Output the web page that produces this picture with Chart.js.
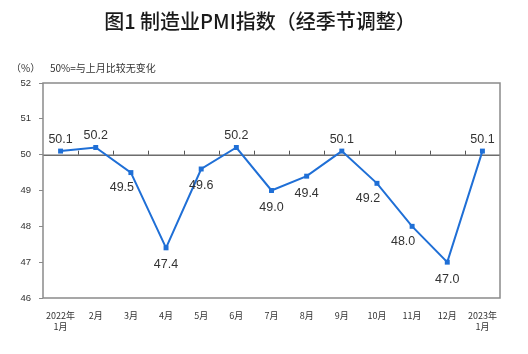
<!DOCTYPE html>
<html>
<head>
<meta charset="utf-8">
<script src="https://cdn.jsdelivr.net/npm/chart.js@4"></script>
<style>
  html, body { margin: 0; padding: 0; background: #fff; }
  #wrap { width: 528px; height: 354px; position: relative; }
</style>
</head>
<body>
<div id="wrap"><canvas id="myChart" width="528" height="354"></canvas></div>
<script>
const months = [['2022年', '1月'], '2月', '3月', '4月', '5月', '6月', '7月', '8月', '9月', '10月', '11月', '12月', ['2023年', '1月']]
const pmi = [50.1, 50.2, 49.5, 47.4, 49.6, 50.2, 49.0, 49.4, 50.1, 49.2, 48.0, 47.0, 50.1]
const yTicks = [46, 47, 48, 49, 50, 51, 52]

// where each value label sits relative to its point
const labelPlace = ['up', 'up', 'downleft', 'down', 'down', 'up', 'down', 'down', 'up', 'downleft', 'downleft', 'down', 'up']

const cnFont = '"Noto Sans CJK SC", "Liberation Sans", sans-serif'
const blue = '#1f6fd6'

const decor = {
    id: 'decor',
    beforeDatasetsDraw(chart) {
        const { ctx, chartArea: a, scales } = chart
        const y50 = scales.y.getPixelForValue(50)
        ctx.save()
        // 50 line
        ctx.strokeStyle = '#222'
        ctx.lineWidth = 1
        ctx.beginPath()
        ctx.moveTo(a.left, y50 + 0.5)
        ctx.lineTo(a.right, y50 + 0.5)
        ctx.stroke()
        // small ticks between months
        ctx.strokeStyle = '#555'
        ctx.beginPath()
        for (let i = 1; i < months.length; i++) {
            const x = Math.round((scales.x.getPixelForValue(i - 1) + scales.x.getPixelForValue(i)) / 2) + 0.5
            ctx.moveTo(x, y50)
            ctx.lineTo(x, y50 - 4)
        }
        ctx.stroke()
        // frame
        ctx.strokeStyle = '#8a8a8a'
        ctx.lineWidth = 1.5
        ctx.strokeRect(a.left, a.top, a.right - a.left, a.bottom - a.top)
        ctx.restore()
    },
    afterDraw(chart) {
        const { ctx, scales } = chart
        ctx.save()
        // title
        ctx.fillStyle = '#1a1a1a'
        ctx.font = '500 20px ' + cnFont
        ctx.textAlign = 'center'
        ctx.textBaseline = 'middle'
        ctx.fillText('图1 制造业PMI指数（经季节调整）', 260, 21)
        // unit note
        ctx.font = '10px ' + cnFont
        ctx.fillStyle = '#333'
        ctx.textAlign = 'left'
        ctx.fillText('（%）', 11, 68)
        ctx.fillText('50%=与上月比较无变化', 50, 68)
        // value labels
        ctx.font = '12.5px "Liberation Sans", Arial, sans-serif'
        ctx.fillStyle = '#333'
        ctx.textAlign = 'center'
        pmi.forEach((v, i) => {
            const x = scales.x.getPixelForValue(i)
            const y = scales.y.getPixelForValue(v)
            let dx = 0, dy = -12
            if (labelPlace[i] === 'down') dy = 17
            if (labelPlace[i] === 'downleft') { dx = -9; dy = 15 }
            ctx.fillText(v.toFixed(1), x + dx, y + dy)
        })
        ctx.restore()
    }
}

const ctx = document.getElementById('myChart').getContext('2d')
const myChart = new Chart(ctx, {
    type: 'line',
    data: {
        labels: months,
        datasets: [{
            data: pmi,
            borderColor: blue,
            backgroundColor: blue,
            borderWidth: 2,
            pointStyle: 'rect',
            pointRadius: 3.5,
            pointBorderWidth: 0,
            tension: 0
        }]
    },
    options: {
        responsive: false,
        animation: false,
        layout: { padding: { left: 0, right: 28, top: 83, bottom: 0 } },
        plugins: { legend: { display: false }, tooltip: { enabled: false } },
        scales: {
            x: {
                offset: true,
                grid: { display: false },
                border: { display: false },
                ticks: {
                    color: '#333',
                    font: { size: 9, family: cnFont },
                    maxRotation: 0,
                    autoSkip: false,
                    padding: 4
                },
                afterFit(s) { s.height = 56 }
            },
            y: {
                min: 46,
                max: 52,
                afterBuildTicks(s) { s.ticks = yTicks.map(v => ({ value: v })) },
                grid: { drawOnChartArea: false, drawTicks: true, tickLength: 4, color: '#8a8a8a' },
                border: { display: false },
                ticks: {
                    color: '#333',
                    font: { size: 9.5, family: '"Liberation Sans", Arial, sans-serif' },
                    padding: 8
                },
                afterFit(s) { s.width = 43 }
            }
        }
    },
    plugins: [decor]
})
</script>
</body>
</html>
